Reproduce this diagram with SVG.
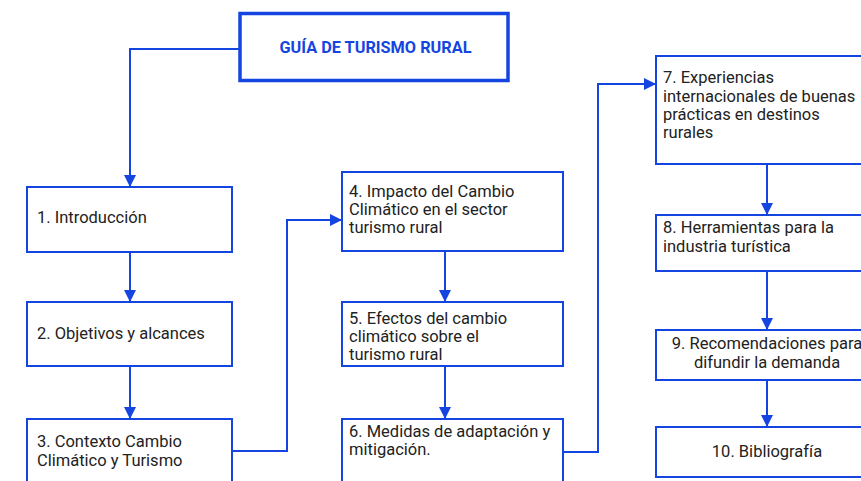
<svg xmlns="http://www.w3.org/2000/svg" width="861" height="481" viewBox="0 0 861 481">
<style>
.box{fill:#fff;stroke:#1545E0;stroke-width:2}
.title{fill:#fff;stroke:#1545E0;stroke-width:3.5}
.t{font-family:Roboto,"Liberation Sans",sans-serif;font-size:16.5px;fill:#222}
.c{text-anchor:middle}
.tt{font-family:Roboto,"Liberation Sans",sans-serif;font-size:16.3px;font-weight:bold;fill:#1545E0;text-anchor:middle}
.ln{fill:none;stroke:#1545E0;stroke-width:2}
</style>
<defs>
<marker id="ah" viewBox="0 0 12 12" refX="12" refY="6" markerWidth="12" markerHeight="12" markerUnits="userSpaceOnUse" orient="auto">
<path d="M0,0 L12,6 L0,12 Z" fill="#1545E0"/>
</marker>
</defs>
<rect width="861" height="481" fill="#fff"/>
<g id="connectors">
<path class="ln" d="M239,49 H130 V187" marker-end="url(#ah)"/>
<path class="ln" d="M130,252 V302" marker-end="url(#ah)"/>
<path class="ln" d="M130,366 V419" marker-end="url(#ah)"/>
<path class="ln" d="M232,451 H287 V220 H342" marker-end="url(#ah)"/>
<path class="ln" d="M445,251 V302" marker-end="url(#ah)"/>
<path class="ln" d="M445,366 V419" marker-end="url(#ah)"/>
<path class="ln" d="M563,452 H598 V84 H656" marker-end="url(#ah)"/>
<path class="ln" d="M767,164 V215" marker-end="url(#ah)"/>
<path class="ln" d="M767,271 V330" marker-end="url(#ah)"/>
<path class="ln" d="M767,380 V427" marker-end="url(#ah)"/>
</g>
<g id="title">
<rect class="title" x="240" y="13.5" width="268" height="67"/>
<text class="tt" x="375.5" y="53">GUÍA DE TURISMO RURAL</text>
</g>
<g id="n1">
<rect class="box" x="27" y="187" width="205" height="65"/>
<text class="t" x="37" y="223">1. Introducción</text>
</g>
<g id="n2">
<rect class="box" x="27" y="302" width="205" height="64"/>
<text class="t" x="37" y="339">2. Objetivos y alcances</text>
</g>
<g id="n3">
<rect class="box" x="27" y="419" width="205" height="70"/>
<text class="t" x="37" y="447">3. Contexto Cambio</text>
<text class="t" x="37" y="466">Climático y Turismo</text>
</g>
<g id="n4">
<rect class="box" x="342" y="172" width="221" height="79"/>
<text class="t" x="349" y="197">4. Impacto del Cambio</text>
<text class="t" x="349" y="215">Climático en el sector</text>
<text class="t" x="349" y="233">turismo rural</text>
</g>
<g id="n5">
<rect class="box" x="342" y="302" width="221" height="64"/>
<text class="t" x="349" y="324">5. Efectos del cambio</text>
<text class="t" x="349" y="342">climático sobre el</text>
<text class="t" x="349" y="360">turismo rural</text>
</g>
<g id="n6">
<rect class="box" x="342" y="419" width="221" height="70"/>
<text class="t" x="349" y="437">6. Medidas de adaptación y</text>
<text class="t" x="349" y="455">mitigación.</text>
</g>
<g id="n7">
<rect class="box" x="656" y="56" width="222" height="108"/>
<text class="t" x="663" y="83">7. Experiencias</text>
<text class="t" x="663" y="102">internacionales de buenas</text>
<text class="t" x="663" y="120">prácticas en destinos</text>
<text class="t" x="663" y="138">rurales</text>
</g>
<g id="n8">
<rect class="box" x="656" y="215" width="222" height="56"/>
<text class="t" x="663" y="233">8. Herramientas para la</text>
<text class="t" x="663" y="252">industria turística</text>
</g>
<g id="n9">
<rect class="box" x="656" y="330" width="222" height="50"/>
<text class="t c" x="767" y="349">9. Recomendaciones para</text>
<text class="t c" x="767" y="368">difundir la demanda</text>
</g>
<g id="n10">
<rect class="box" x="656" y="427" width="222" height="50"/>
<text class="t c" x="767" y="457">10. Bibliografía</text>
</g>
</svg>
